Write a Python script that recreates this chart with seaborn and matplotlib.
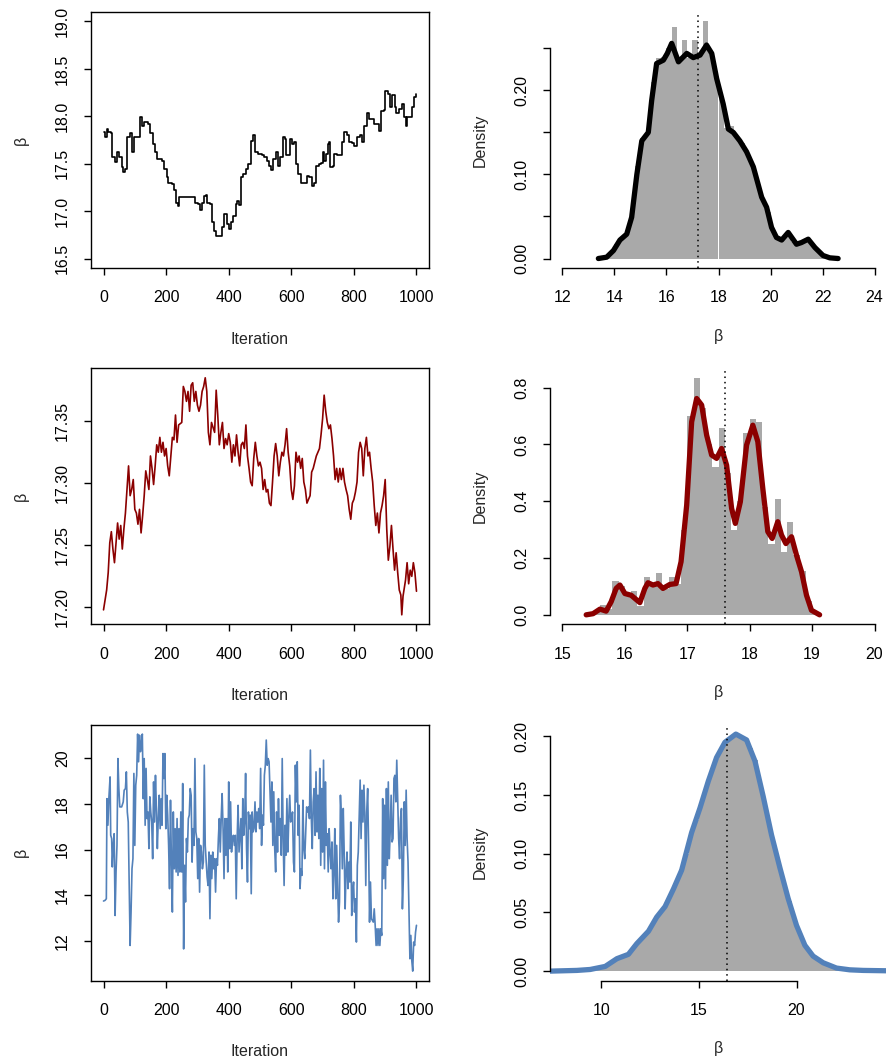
import numpy as np
import pandas as pd
import matplotlib
matplotlib.use("Agg")
import matplotlib.pyplot as plt
import seaborn as sns

# ---------------- data ----------------
# Trace 1 (black, step-like chain)
trace1_iter = [0, 5, 10, 15, 25, 28, 36, 44, 50, 58, 63, 70, 76, 84, 92, 98, 108, 116, 122, 130,
               141, 148, 157, 164, 172, 186, 194, 202, 207, 218, 225, 230, 237, 241, 290, 292, 303, 308, 316, 321,
               327, 332, 340, 347, 353, 360, 372, 380, 385, 394, 400, 408, 415, 422, 428, 434, 440, 447, 455, 463,
               471, 479, 485, 495, 506, 514, 522, 529, 536, 543, 552, 559, 565, 572, 580, 583, 591, 596, 602, 609,
               616, 621, 629, 632, 645, 650, 658, 666, 673, 680, 687, 695, 700, 705, 712, 716, 722, 725, 732, 735,
               746, 757, 762, 769, 778, 783, 794, 801, 810, 820, 826, 831, 842, 847, 858, 865, 874, 881, 888, 895,
               901, 908, 915, 922, 930, 936, 944, 954, 959, 965, 970, 979, 986, 991, 1000]
trace1_beta = [17.83, 17.78, 17.87, 17.83, 17.82, 17.57, 17.52, 17.62, 17.57, 17.46, 17.41, 17.44, 17.78, 17.82, 17.62,
               17.78, 17.78, 17.99, 17.90, 17.94, 17.92, 17.82, 17.71, 17.62, 17.55, 17.53, 17.44, 17.36, 17.30, 17.29,
               17.22, 17.09, 17.05, 17.15, 17.15, 17.09, 17.07, 17.01, 17.09, 17.16, 17.17, 17.09, 17.07, 16.88, 16.79,
               16.74, 16.74, 16.83, 16.97, 16.86, 16.81, 16.88, 16.95, 17.07, 17.11, 17.06, 17.36, 17.39, 17.44, 17.50,
               17.74, 17.80, 17.62, 17.60, 17.59, 17.57, 17.53, 17.48, 17.43, 17.55, 17.62, 17.48, 17.57, 17.78, 17.76,
               17.59, 17.59, 17.76, 17.71, 17.73, 17.50, 17.39, 17.39, 17.30, 17.30, 17.37, 17.36, 17.27, 17.30, 17.48,
               17.50, 17.51, 17.62, 17.53, 17.60, 17.71, 17.73, 17.47, 17.48, 17.60, 17.59, 17.59, 17.73, 17.83, 17.80,
               17.73, 17.72, 17.69, 17.78, 17.80, 17.73, 17.90, 18.04, 17.97, 17.97, 17.92, 17.92, 17.85, 18.06, 18.07,
               18.27, 18.24, 18.10, 18.22, 18.10, 18.03, 18.08, 18.13, 17.99, 17.90, 17.99, 17.99, 18.10, 18.20, 18.23]

# Trace 2 (dark red)
trace2_iter = list(range(0, 951, 5)) + [953, 957] + list(range(960, 1001, 5))
trace2_beta = [17.198, 17.206, 17.214, 17.228, 17.252, 17.261, 17.247, 17.236, 17.252, 17.268, 17.255, 17.266, 17.247,
               17.263, 17.276, 17.295, 17.314, 17.290, 17.295, 17.303, 17.279,
               17.276, 17.267, 17.279, 17.260, 17.274, 17.290, 17.310, 17.303, 17.295, 17.322, 17.312, 17.299, 17.314,
               17.331, 17.325, 17.337, 17.325, 17.333, 17.322, 17.328,
               17.314, 17.306, 17.322, 17.337, 17.335, 17.355, 17.333, 17.347, 17.348, 17.349, 17.378, 17.374, 17.366,
               17.374, 17.358, 17.379, 17.381, 17.366, 17.374, 17.363,
               17.358, 17.363, 17.374, 17.378, 17.385, 17.374, 17.341, 17.331, 17.349, 17.345, 17.341, 17.375, 17.355,
               17.331, 17.341, 17.349, 17.328, 17.336, 17.331, 17.340,
               17.333, 17.317, 17.331, 17.322, 17.339, 17.325, 17.314, 17.331, 17.333, 17.328, 17.347, 17.322, 17.312,
               17.301, 17.298, 17.320, 17.333, 17.322, 17.314, 17.317,
               17.312, 17.295, 17.303, 17.293, 17.295, 17.284, 17.282, 17.301, 17.322, 17.332, 17.322, 17.306, 17.317,
               17.325, 17.322, 17.331, 17.344, 17.325, 17.314, 17.295,
               17.287, 17.298, 17.325, 17.317, 17.322, 17.312, 17.320, 17.301, 17.295, 17.284, 17.287, 17.290, 17.309,
               17.312, 17.317, 17.322, 17.325, 17.328, 17.339, 17.352,
               17.371, 17.358, 17.349, 17.344, 17.347, 17.336, 17.322, 17.303, 17.312, 17.301, 17.312, 17.303, 17.312,
               17.301, 17.295, 17.290, 17.279, 17.271, 17.284, 17.287,
               17.293, 17.301, 17.325, 17.333, 17.328, 17.306, 17.328, 17.337, 17.322, 17.325, 17.312, 17.301, 17.282,
               17.266, 17.276, 17.260, 17.276, 17.282, 17.290, 17.303,
               17.263, 17.238, 17.249, 17.266, 17.247, 17.230, 17.244, 17.228, 17.214, 17.210,
               17.194, 17.209,
               17.214, 17.222, 17.236, 17.219, 17.230, 17.225, 17.236, 17.228, 17.213]

# Trace 3 (steel blue)
trace3_iter = [0, 5, 9, 11, 14, 17, 19, 21, 23, 26, 28, 31, 34, 37, 40, 43, 46, 49, 52, 58, 63, 66, 70, 73, 76,
               79, 82, 85, 88, 91, 94, 97, 100, 103, 106] + list(range(109, 998, 3)) + [1000]
trace3_beta = [13.75, 13.78, 13.85, 18.22, 17.06, 18.22, 18.66, 19.17, 16.62, 16.48, 15.24, 16.18, 16.69, 13.12, 15.02,
               16.18, 19.97, 18.66, 17.86, 17.86, 18.08, 18.59, 18.66, 19.39, 17.64, 17.20, 14.43, 11.81, 13.27, 15.16,
               15.60, 19.32, 16.18, 18.81, 19.24,
               21.04, 19.83, 20.99, 20.27, 20.63, 21.04, 18.22, 19.97, 17.06, 19.54,
               17.35, 17.64, 16.04, 18.30, 17.64, 17.20, 15.60, 18.95, 17.20, 19.24,
               17.79, 16.04, 17.35, 18.37, 16.91, 18.22, 17.06, 20.19, 19.10, 20.19,
               16.91, 18.37, 17.50, 16.18, 14.29, 18.15, 15.45, 13.27, 17.64, 15.16,
               16.91, 15.02, 17.35, 14.87, 16.91, 15.02, 17.64, 15.02, 18.88, 11.66,
               15.31, 13.71, 16.48, 15.89, 17.35, 17.50, 18.66, 18.37, 15.45, 16.91,
               16.18, 19.97, 16.77, 16.48, 14.73, 16.48, 14.14, 16.18, 15.89, 15.16,
               15.45, 19.68, 16.18, 15.45, 14.80, 14.43, 15.89, 12.98, 15.75, 14.73,
               15.89, 15.16, 15.60, 14.14, 15.60, 15.31, 16.48, 17.35, 15.89, 17.35,
               18.44, 16.91, 14.73, 17.35, 15.75, 17.35, 15.02, 18.95, 16.04, 18.08,
               15.89, 16.48, 16.62, 16.18, 16.62, 13.85, 16.48, 17.93, 15.89, 16.62,
               17.35, 15.16, 18.22, 16.62, 17.20, 19.32, 16.04, 14.58, 17.64, 16.91,
               17.50, 14.07, 17.64, 16.77, 16.91, 18.08, 16.77, 17.64, 17.20, 17.79,
               16.91, 19.54, 16.18, 17.50, 17.06, 19.24, 19.68, 20.78, 19.68, 19.97,
               19.83, 18.52, 17.20, 18.95, 16.18, 18.52, 16.04, 15.02, 17.64, 15.89,
               18.22, 16.62, 17.35, 15.75, 19.97, 16.48, 14.43, 17.06, 15.75, 18.22,
               15.89, 17.35, 18.37, 17.20, 17.35, 17.64, 15.45, 15.02, 19.68, 18.08,
               19.83, 16.62, 17.93, 14.29, 15.16, 14.87, 18.15, 16.04, 15.60, 16.77,
               17.86, 17.64, 17.86, 17.35, 20.34, 17.35, 16.04, 18.08, 18.66, 16.62,
               19.39, 16.77, 18.37, 16.48, 19.54, 15.31, 18.66, 15.89, 19.90, 15.16,
               18.95, 16.18, 16.69, 15.02, 16.91, 15.89, 15.16, 16.33, 13.85, 15.02,
               16.91, 13.85, 16.18, 14.43, 12.83, 13.71, 18.37, 17.35, 15.16, 17.79,
               15.89, 13.41, 15.02, 15.89, 14.29, 15.45, 14.58, 17.20, 13.12, 14.14,
               14.58, 13.27, 13.85, 11.96, 15.31, 15.89, 17.50, 19.03, 16.48, 18.59,
               17.20, 18.81, 17.50, 14.43, 17.64, 18.66, 16.18, 12.83, 14.58, 12.98,
               12.90, 12.83, 13.41, 12.69, 11.81, 12.54, 11.81, 12.54, 11.81, 12.54,
               12.25, 18.22, 14.73, 17.93, 14.29, 18.66, 15.31, 18.95, 15.60, 16.77,
               18.37, 16.33, 16.48, 19.10, 19.24, 18.08, 19.90, 18.22, 16.48, 15.60,
               17.35, 17.79, 13.41, 14.73, 18.08, 16.18, 18.59, 16.48, 15.45, 13.27,
               11.23, 12.25, 11.15, 10.69, 11.96, 11.81, 12.39,
               12.69]

# Histograms (bin range, bin count, density heights)
hist1_range, hist1_bins = (13.4, 22.6), 46
hist1_heights = [0.0005, 0.002, 0.008, 0.017, 0.026, 0.031, 0.055, 0.11, 0.143, 0.150,
                 0.21, 0.238, 0.240, 0.25, 0.275, 0.235, 0.26, 0.238, 0.26, 0.245,
                 0.282, 0.245, 0.22, 0.19, 0.155, 0.158, 0.145, 0.137, 0.125, 0.11,
                 0.09, 0.07, 0.055, 0.033, 0.022, 0.024, 0.032, 0.02, 0.018, 0.022,
                 0.02, 0.012, 0.006, 0.003, 0.001, 0.0003]
hist2_range, hist2_bins = (15.4, 19.1), 37
hist2_heights = [0.003, 0.012, 0.034, 0.02, 0.12, 0.10, 0.075, 0.083, 0.03, 0.134,
                 0.11, 0.146, 0.09, 0.134, 0.11, 0.30, 0.70, 0.835, 0.73, 0.60,
                 0.52, 0.657, 0.50, 0.30, 0.40, 0.64, 0.69, 0.68, 0.38, 0.25,
                 0.408, 0.22, 0.328, 0.21, 0.155, 0.05, 0.005]
hist3_range, hist3_bins = (9.0, 23.0), 56
hist3_heights = [0.0012, 0.0014, 0.002, 0.003, 0.004, 0.006, 0.009, 0.011, 0.013, 0.0145,
                 0.02, 0.025, 0.029, 0.033, 0.040, 0.047, 0.052, 0.060, 0.068, 0.077,
                 0.087, 0.100, 0.118, 0.129, 0.142, 0.156, 0.170, 0.181, 0.189, 0.196,
                 0.199, 0.202, 0.201, 0.198, 0.190, 0.180, 0.160, 0.143, 0.124, 0.106,
                 0.090, 0.074, 0.060, 0.045, 0.034, 0.024, 0.017, 0.012, 0.009, 0.007,
                 0.005, 0.0035, 0.0025, 0.002, 0.0014, 0.001]

# Density curves
dens1_x = [13.38, 13.70, 13.96, 14.21, 14.47, 14.66, 14.86, 15.05, 15.30, 15.43, 15.62, 15.88, 16.03, 16.20,
           16.46, 16.78, 17.03, 17.29, 17.54, 17.74, 17.93, 18.18, 18.38, 18.57, 18.82, 19.08, 19.34, 19.66,
           19.85, 20.04, 20.23, 20.43, 20.68, 21.00, 21.19, 21.45, 21.71, 22.02, 22.28, 22.60]
dens1_y = [0.0, 0.0016, 0.0095, 0.022, 0.029, 0.049, 0.10, 0.14, 0.150, 0.188, 0.232, 0.236, 0.244, 0.256,
           0.234, 0.244, 0.239, 0.242, 0.254, 0.244, 0.214, 0.184, 0.154, 0.150, 0.140, 0.127, 0.109, 0.073,
           0.061, 0.037, 0.025, 0.022, 0.031, 0.017, 0.019, 0.023, 0.013, 0.0036, 0.0008, 0.0]
dens2_x = [15.38, 15.49, 15.60, 15.70, 15.78, 15.86, 15.92, 16.00, 16.10, 16.24, 16.32, 16.37, 16.45, 16.53,
           16.61, 16.72, 16.82, 16.90, 16.99, 17.07, 17.15, 17.23, 17.31, 17.39, 17.47, 17.55, 17.63, 17.71,
           17.77, 17.85, 17.95, 18.05, 18.13, 18.21, 18.29, 18.36, 18.45, 18.51, 18.58, 18.67, 18.75, 18.83,
           18.91, 18.99, 19.12]
dens2_y = [0.0, 0.004, 0.02, 0.013, 0.046, 0.093, 0.105, 0.075, 0.069, 0.043, 0.093, 0.113, 0.105, 0.110,
           0.093, 0.107, 0.110, 0.187, 0.386, 0.680, 0.762, 0.739, 0.633, 0.563, 0.551, 0.586, 0.527, 0.375,
           0.322, 0.398, 0.598, 0.668, 0.610, 0.445, 0.293, 0.269, 0.328, 0.281, 0.251, 0.275, 0.210, 0.152,
           0.069, 0.016, 0.0]
dens3_x = [7.0, 7.39, 8.74, 9.42, 10.19, 10.79, 11.38, 11.81, 12.41, 12.83, 13.26, 13.69, 14.11, 14.62, 15.05,
           15.48, 15.90, 16.33, 16.89, 17.44, 17.87, 18.29, 18.72, 19.15, 19.57, 20.00, 20.43, 20.85, 21.37,
           22.05, 22.73, 23.41, 24.59, 25.0]
dens3_y = [0.0, 0.0, 0.0006, 0.0014, 0.004, 0.0106, 0.0143, 0.0234, 0.034, 0.046, 0.055, 0.070, 0.086, 0.118,
           0.139, 0.162, 0.182, 0.195, 0.202, 0.197, 0.179, 0.149, 0.116, 0.088, 0.062, 0.039, 0.022, 0.0128,
           0.0071, 0.0026, 0.0011, 0.0006, 0.0003, 0.0003]

chain_means = [17.20, 17.61, 16.42]
colors = ["black", "#8B0000", "#5381BA"]

# --------------- styling ---------------
sns.set_style("white")
plt.rcParams["font.family"] = ["Liberation Sans", "DejaVu Sans"]
FS = 11.5

fig = plt.figure(figsize=(8.86, 10.64), dpi=100)
W, H = 886.0, 1064.0


def pos(l, t, w, h):
    return [l / W, 1 - (t + h) / H, w / W, h / H]


traces = [(trace1_iter, trace1_beta), (trace2_iter, trace2_beta), (trace3_iter, trace3_beta)]
hists = [(hist1_range, hist1_bins, hist1_heights), (hist2_range, hist2_bins, hist2_heights),
         (hist3_range, hist3_bins, hist3_heights)]
dens = [(dens1_x, dens1_y), (dens2_x, dens2_y), (dens3_x, dens3_y)]

trace_ylims_fixed = [(16.5, 19.0), None, None]
trace_yticks = [np.arange(16.5, 19.01, 0.5), np.arange(17.20, 17.351, 0.05), np.arange(12, 20.1, 2)]
trace_yfmt = ["%.1f", "%.2f", "%d"]
hist_xlims = [(12, 24), (15, 20), (8, 24)]
hist_xticks = [np.arange(12, 24.1, 2), np.arange(15, 20.1, 1), [10, 15, 20]]
hist_yticks = [np.arange(0, 0.251, 0.05), np.arange(0, 0.81, 0.2), np.arange(0, 0.201, 0.05)]
hist_ylabels = [["0.00", "", "0.10", "", "0.20", ""], ["0.0", "0.2", "0.4", "0.6", "0.8"],
                ["0.00", "0.05", "0.10", "0.15", "0.20"]]


def ext(lo, hi):
    d = (hi - lo) * 0.04
    return lo - d, hi + d


def style_ticks(a):
    a.tick_params(direction="out", length=5, width=1, labelsize=FS, colors="black",
                  bottom=True, left=True)
    a.tick_params(axis="x", pad=11)
    a.tick_params(axis="y", pad=10, labelrotation=90)
    for lab in a.get_yticklabels():
        lab.set_va("center")


for r in range(3):
    top = 12 + 356.3 * r
    c = colors[r]

    # ---- trace plot ----
    ax = fig.add_axes(pos(91, top, 338, 256))
    it, bt = traces[r]
    tdf = pd.DataFrame({"Iteration": it, "beta": bt})
    kw = dict(drawstyle="steps-post") if r == 0 else {}
    sns.lineplot(data=tdf, x="Iteration", y="beta", ax=ax, color=c, linewidth=1.2,
                 estimator=None, sort=False, **kw)
    ax.set_xlim(ext(0, 1000))
    if trace_ylims_fixed[r] is not None:
        ax.set_ylim(ext(*trace_ylims_fixed[r]))
    else:
        ax.set_ylim(ext(min(bt), max(bt)))
    ax.set_xticks(np.arange(0, 1001, 200))
    ax.set_yticks(trace_yticks[r])
    ax.set_yticklabels([trace_yfmt[r] % v for v in trace_yticks[r]])
    for s in ax.spines.values():
        s.set_visible(True)
        s.set_linewidth(1.0)
        s.set_color("black")
    style_ticks(ax)
    ax.set_xlabel("Iteration", fontsize=FS)
    ax.set_ylabel("β", fontsize=FS)
    ax.xaxis.label.set_va("center")
    ax.xaxis.set_label_coords(0.5, -71 / 256)
    ax.yaxis.label.set_va("center")
    ax.yaxis.set_label_coords(-70 / 338, 0.5)

    # ---- histogram + density ----
    ax2 = fig.add_axes(pos(550, top, 337, 256))
    (lo, hi), nb, hts = hists[r]
    width = (hi - lo) / nb
    centers = [lo + width * (i + 0.5) for i in range(nb)]
    hdf = pd.DataFrame({"beta": centers, "density": hts})
    sns.histplot(data=hdf, x="beta", weights="density", bins=nb, binrange=(lo, hi), ax=ax2,
                 stat="count", color="#A9A9A9", alpha=1, edgecolor="none", linewidth=0)
    dx, dy = dens[r]
    ddf = pd.DataFrame({"beta": dx, "density": dy})
    sns.lineplot(data=ddf, x="beta", y="density", ax=ax2, color=c, linewidth=3.8,
                 estimator=None, sort=False, solid_capstyle="round", solid_joinstyle="round")
    ax2.axvline(chain_means[r], color="black", linestyle=(0, (1, 2.5)), linewidth=1.1)
    ymax = max(max(hts), max(dy))
    ax2.set_ylim(-0.04 * ymax, 1.04 * ymax)
    ax2.set_xlim(ext(*hist_xlims[r]))
    ax2.set_xticks(hist_xticks[r])
    ax2.set_xticklabels([str(int(v)) for v in hist_xticks[r]])
    ax2.set_yticks(hist_yticks[r])
    ax2.set_yticklabels(hist_ylabels[r])
    ax2.spines["top"].set_visible(False)
    ax2.spines["right"].set_visible(False)
    for sname in ["left", "bottom"]:
        ax2.spines[sname].set_visible(True)
        ax2.spines[sname].set_linewidth(1.0)
        ax2.spines[sname].set_color("black")
    ax2.spines["bottom"].set_bounds(hist_xticks[r][0], hist_xticks[r][-1])
    ax2.spines["left"].set_bounds(hist_yticks[r][0], hist_yticks[r][-1])
    style_ticks(ax2)
    ax2.set_xlabel("β", fontsize=FS)
    ax2.set_ylabel("Density", fontsize=FS)
    ax2.xaxis.label.set_va("center")
    ax2.xaxis.set_label_coords(0.5, -68 / 256)
    ax2.yaxis.label.set_va("center")
    ax2.yaxis.set_label_coords(-70 / 337, 0.5)

fig.savefig("out.png", dpi=100)
